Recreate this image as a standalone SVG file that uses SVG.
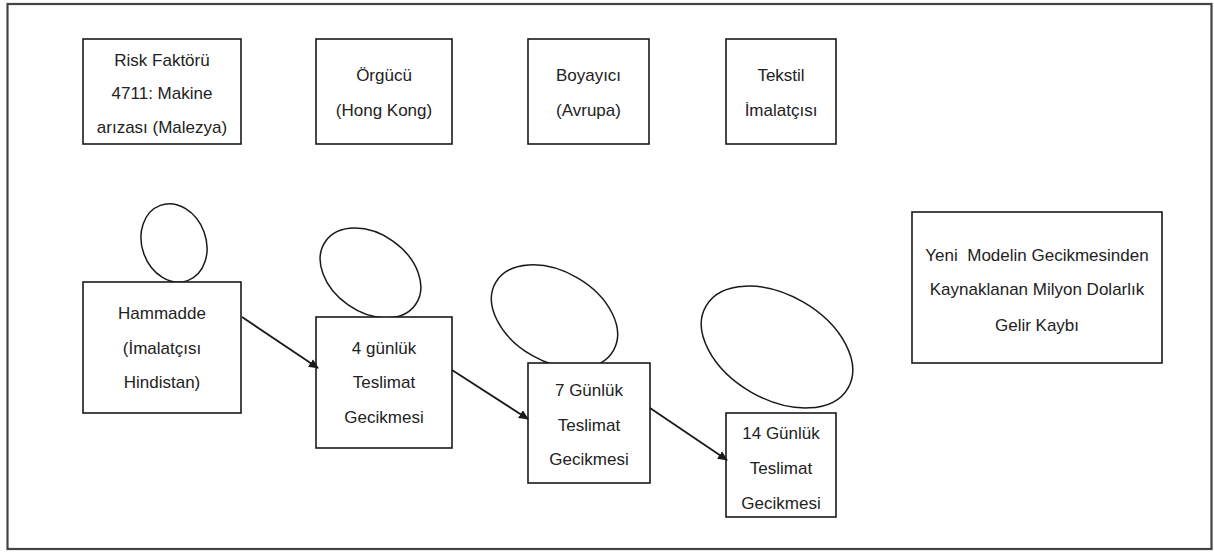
<svg xmlns="http://www.w3.org/2000/svg" width="1214" height="552" viewBox="0 0 1214 552">
<style>
.box{fill:#fff;stroke:#1a1a1a;stroke-width:1.6}
.ell{fill:none;stroke:#1a1a1a;stroke-width:1.5}
.t{font-family:"Liberation Sans",Arial,sans-serif;font-size:17px;fill:#222;text-anchor:middle}
.c{stroke:#1a1a1a;stroke-width:1.8;fill:none;marker-end:url(#ah)}
</style>
<defs>
<marker id="ah" markerWidth="10" markerHeight="10" refX="9" refY="5" orient="auto" markerUnits="userSpaceOnUse">
<path d="M0,0.5 L10,5 L0,9.5 Z" fill="#1a1a1a"/>
</marker>
</defs>
<rect width="1214" height="552" fill="#fff"/>
<rect x="7.5" y="4" width="1204" height="545" fill="none" stroke="#444" stroke-width="2.2"/>

<g id="risk">
<rect class="box" x="83" y="39" width="158" height="105"/>
<text class="t" x="162" y="66">Risk Faktörü</text>
<text class="t" x="162" y="99">4711: Makine</text>
<text class="t" x="162" y="133">arızası (Malezya)</text>
</g>
<g id="orgucu">
<rect class="box" x="316" y="39" width="136" height="105"/>
<text class="t" x="384" y="81">Örgücü</text>
<text class="t" x="384" y="116">(Hong Kong)</text>
</g>
<g id="boyayici">
<rect class="box" x="528" y="39" width="121" height="105"/>
<text class="t" x="588.5" y="81">Boyayıcı</text>
<text class="t" x="588.5" y="116">(Avrupa)</text>
</g>
<g id="tekstil">
<rect class="box" x="726" y="39" width="110" height="105"/>
<text class="t" x="781" y="81">Tekstil</text>
<text class="t" x="781" y="116">İmalatçısı</text>
</g>

<g id="hammadde">
<ellipse class="ell" cx="174" cy="243" rx="32" ry="40" transform="rotate(-20 174 243)"/>
<rect class="box" x="83" y="282" width="158" height="131"/>
<text class="t" x="162" y="319">Hammadde</text>
<text class="t" x="162" y="354">(İmalatçısı</text>
<text class="t" x="162" y="388">Hindistan)</text>
</g>
<g id="gecikme4">
<ellipse class="ell" cx="370.5" cy="273" rx="55" ry="39" transform="rotate(35 370.5 273)"/>
<rect class="box" x="316" y="317" width="136" height="131"/>
<text class="t" x="384" y="354">4 günlük</text>
<text class="t" x="384" y="388">Teslimat</text>
<text class="t" x="384" y="423">Gecikmesi</text>
</g>
<g id="gecikme7">
<ellipse class="ell" cx="554.5" cy="316.5" rx="68" ry="45" transform="rotate(30 554.5 316.5)"/>
<rect class="box" x="528" y="363" width="122" height="120"/>
<text class="t" x="589" y="396">7 Günlük</text>
<text class="t" x="589" y="431">Teslimat</text>
<text class="t" x="589" y="465">Gecikmesi</text>
</g>
<g id="gecikme14">
<ellipse class="ell" cx="777" cy="347" rx="82" ry="52" transform="rotate(30 777 347)"/>
<rect class="box" x="726" y="413" width="110" height="104"/>
<text class="t" x="781" y="439">14 Günlük</text>
<text class="t" x="781" y="474">Teslimat</text>
<text class="t" x="781" y="509">Gecikmesi</text>
</g>
<g id="kayip">
<rect class="box" x="912" y="212" width="250" height="151"/>
<text class="t" x="1037" y="261" xml:space="preserve">Yeni  Modelin Gecikmesinden</text>
<text class="t" x="1037" y="295">Kaynaklanan Milyon Dolarlık</text>
<text class="t" x="1037" y="331">Gelir Kaybı</text>
</g>

<g id="connectors">
<line class="c" x1="242" y1="317" x2="318" y2="368"/>
<line class="c" x1="452" y1="370" x2="528" y2="419"/>
<line class="c" x1="650" y1="408" x2="727" y2="460"/>
</g>
</svg>
